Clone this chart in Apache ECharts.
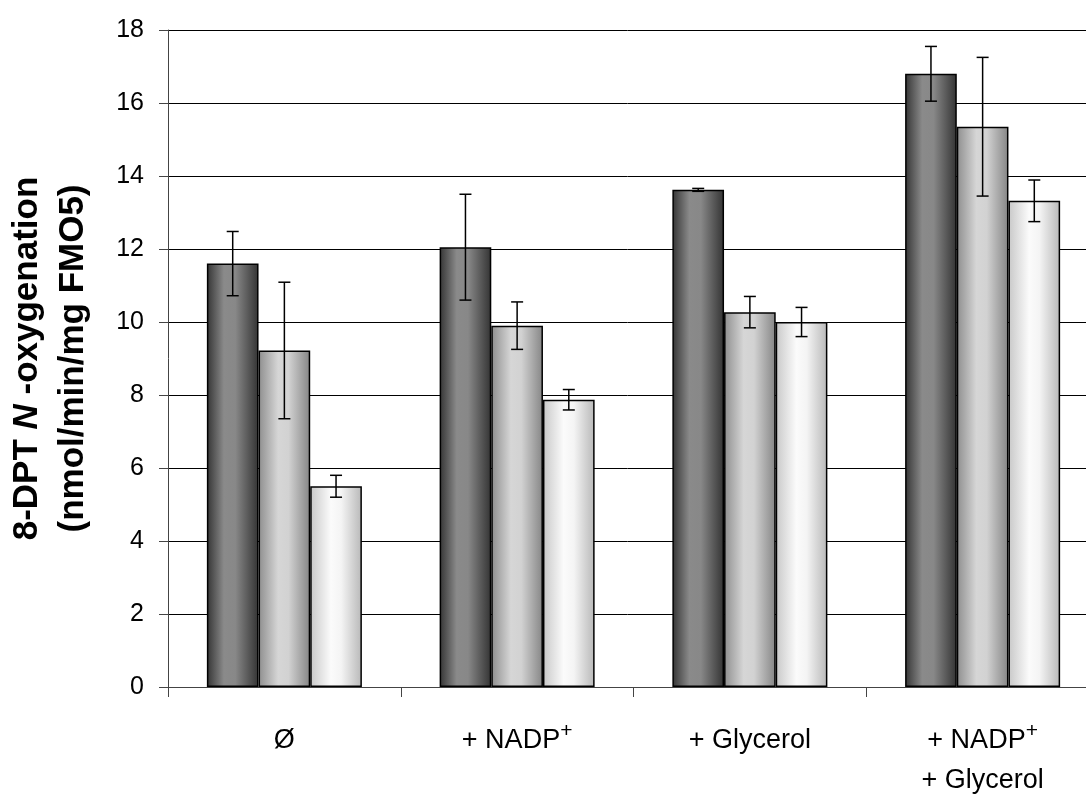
<!DOCTYPE html>
<html>
<head>
<meta charset="utf-8">
<script src="https://cdn.jsdelivr.net/npm/echarts@6/dist/echarts.min.js"></script>
<style>
  html, body { margin: 0; padding: 0; background: #fff; }
  #chart { width: 1086px; height: 796px; }
</style>
</head>
<body>
<div id="chart"></div>
<script>
// Treatment conditions (a trailing "+" on NADP is drawn as a superscript)
const categories = ['Ø', '+ NADP+', '+ Glycerol', '+ NADP+\n+ Glycerol'];

// Mean N-oxygenation rates for the three bar series
const darkValues  = [11.6, 12.05, 13.62, 16.8];
const midValues   = [9.22, 9.9, 10.27, 15.35];
const lightValues = [5.5, 7.87, 10.0, 13.32];

// Standard deviations (half-length of each error bar)
const darkErrors  = [0.88, 1.45, 0.04, 0.75];
const midErrors   = [1.87, 0.65, 0.43, 1.9];
const lightErrors = [0.3, 0.28, 0.4, 0.57];

// Y axis ticks
const yTicks = [0, 2, 4, 6, 8, 10, 12, 14, 16, 18];

const FONT = "'Liberation Sans', Arial, sans-serif";
const GAP = 0.334;   // barCategoryGap as a fraction
const N_SERIES = 3;

function hGradient(stops) {
  return new echarts.graphic.LinearGradient(0, 0, 1, 0,
    stops.map(s => ({ offset: s[0], color: s[1] })));
}

const fills = [
  hGradient([[0, '#343434'], [0.33, '#8a8a8a'], [0.55, '#888888'], [1, '#333333']]),
  hGradient([[0, '#8e8e8e'], [0.38, '#d6d6d6'], [0.58, '#d2d2d2'], [1, '#858585']]),
  hGradient([[0, '#c8c8c8'], [0.4, '#fbfbfb'], [0.6, '#f4f4f4'], [1, '#b8b8b8']])
];

function barSeries(name, values, idx) {
  return {
    name: name,
    type: 'bar',
    data: values,
    barGap: '0%',
    barCategoryGap: (GAP * 100) + '%',
    itemStyle: { color: fills[idx], borderColor: '#000', borderWidth: 1.5 },
    z: 2
  };
}

function errorSeries(values, errors, idx) {
  return {
    type: 'custom',
    data: values.map((v, i) => [i, v - errors[i], v + errors[i]]),
    encode: { x: 0, y: [1, 2] },
    z: 5,
    silent: true,
    renderItem: function (params, api) {
      const ci = api.value(0);
      const lo = api.coord([ci, api.value(1)]);
      const hi = api.coord([ci, api.value(2)]);
      const band = api.size([1, 0])[0];
      const bw = band * (1 - GAP) / N_SERIES;
      const x = lo[0] + (idx - (N_SERIES - 1) / 2) * bw;
      const cap = 6;
      const style = { stroke: '#000', lineWidth: 1.5 };
      return {
        type: 'group',
        children: [
          { type: 'line', shape: { x1: x, y1: lo[1], x2: x, y2: hi[1] }, style: style },
          { type: 'line', shape: { x1: x - cap, y1: lo[1], x2: x + cap, y2: lo[1] }, style: style },
          { type: 'line', shape: { x1: x - cap, y1: hi[1], x2: x + cap, y2: hi[1] }, style: style }
        ]
      };
    }
  };
}

function categoryLabel(text) {
  return text.split('\n').map(line => {
    if (/\+$/.test(line)) {
      return '{t|' + line.slice(0, -1) + '}{s|+}';
    }
    return '{t|' + line + '}';
  }).join('\n');
}

const chart = echarts.init(document.getElementById('chart'), null, { renderer: 'canvas' });

chart.setOption({
  animation: false,
  backgroundColor: '#fff',
  grid: {
    left: 168, top: 30, width: 931, height: 657,
    containLabel: false,
    outerBoundsMode: 'none'
  },
  xAxis: {
    type: 'category',
    data: categories,
    axisLine: { lineStyle: { color: '#444', width: 1 } },
    axisTick: { show: true, length: 10, lineStyle: { color: '#444' } },
    axisLabel: {
      margin: 34,
      interval: 0,
      formatter: categoryLabel,
      rich: {
        t: { fontFamily: FONT, fontSize: 27, color: '#000', lineHeight: 40 },
        s: { fontFamily: FONT, fontSize: 21, color: '#000', lineHeight: 19, verticalAlign: 'top' }
      }
    },
    splitLine: { show: false }
  },
  yAxis: {
    type: 'value',
    min: yTicks[0],
    max: yTicks[yTicks.length - 1],
    interval: yTicks[1] - yTicks[0],
    axisLine: { show: true, lineStyle: { color: '#444', width: 1 } },
    axisTick: { show: true, length: 9, lineStyle: { color: '#444' } },
    axisLabel: { margin: 24, fontFamily: FONT, fontSize: 25, color: '#000' },
    splitLine: { show: true, lineStyle: { color: '#000', width: 1 } },
    name: '{b|8-DPT }{i|N}{b| -oxygenation}\n{b|(nmol/min/mg FMO5)}',
    nameLocation: 'middle',
    nameGap: 72,
    nameTextStyle: {
      rich: {
        b: { fontFamily: FONT, fontSize: 35, fontWeight: 'bold', color: '#000', lineHeight: 46 },
        i: { fontFamily: FONT, fontSize: 35, fontWeight: 'bold', fontStyle: 'italic', color: '#000', lineHeight: 46 }
      }
    }
  },
  series: [
    barSeries('A', darkValues, 0),
    barSeries('B', midValues, 1),
    barSeries('C', lightValues, 2),
    errorSeries(darkValues, darkErrors, 0),
    errorSeries(midValues, midErrors, 1),
    errorSeries(lightValues, lightErrors, 2)
  ]
});
</script>
</body>
</html>
